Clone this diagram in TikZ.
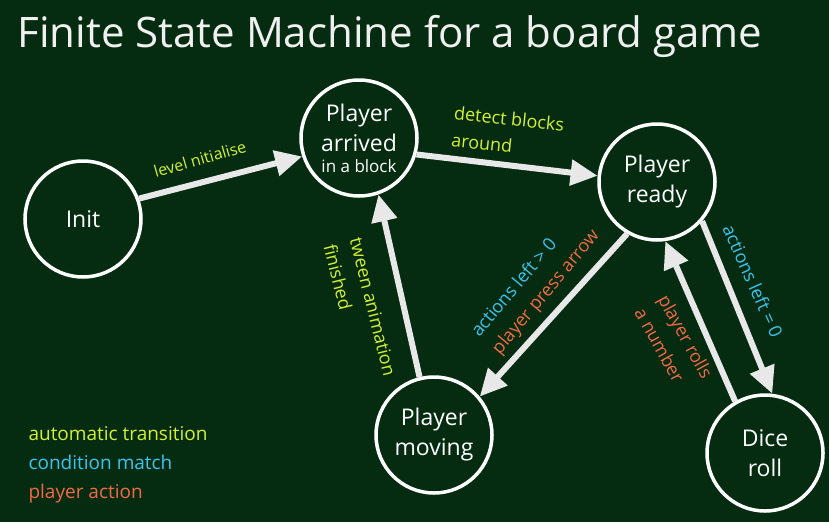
\documentclass[tikz,border=0pt]{standalone}
\usepackage{fontspec}
\setmainfont{Open Sans}
\usetikzlibrary{arrows.meta}
\definecolor{board}{RGB}{5,44,17}
\definecolor{chalk}{RGB}{232,232,232}
\definecolor{autocol}{RGB}{212,240,50}
\definecolor{condcol}{RGB}{60,196,240}
\definecolor{actcol}{RGB}{242,106,69}
\begin{document}
\begin{tikzpicture}[x=1pt, y=-1pt,
    state/.style={draw=white, line width=3.5pt, circle, fill=board, text=white, minimum size=116pt, inner sep=0pt, align=center, font=\fontsize{23}{30}\selectfont},
    trans/.style={font=\fontsize{18}{27}\selectfont, align=left},
    legend/.style={anchor=base west, font=\fontsize{19}{21}\selectfont},
    edge/.style={draw=chalk, line width=6pt},
    >={Triangle[length=27pt,width=25pt]}
]
\path[use as bounding box, fill=board] (0,0) rectangle (829,522);

\node[anchor=base west, text=white!94!black, font=\fontsize{42}{46}\selectfont] (title) at (14,47) {Finite State Machine for a board game};

\node[state] (init) at (83,219) {Init};
\node[state] (arrived) at (359,138) {Player\\arrived\\[-9pt]{\fontsize{17}{19}\selectfont in a block}};
\node[state] (ready) at (657,182) {Player\\ready};
\node[state] (moving) at (434,435) {Player\\moving};
\node[state] (dice) at (765,453) {Dice\\roll};

\draw[->, edge] (init.20) -- (arrived.198);
\draw[->, edge] (arrived.-16.5) -- (ready.174);
\draw[->, edge] (ready.240) -- (moving.40);
\draw[->, edge] (moving.104) -- (arrived.-71);
\draw[->, edge] (ready.-41) -- (dice.83);
\draw[->, edge] (dice.120) -- (ready.-82);

\node[trans, text=autocol, rotate=16, font=\fontsize{16}{20}\selectfont] (lvl) at (200,159) {level nitialise};
\node[trans, text=autocol, rotate=-6, anchor=north west] (detect) at (452,102) {detect blocks\\around};
\node[trans, text=autocol, rotate=-76] (tween) at (360,310) {tween animation\\finished};
\node[trans, rotate=50] (press) at (536,284) {\textcolor{condcol}{actions left > 0}\\\textcolor{actcol}{player press arrow}};
\node[trans, text=condcol, rotate=-66] (zero) at (753,281) {actions left = 0};
\node[trans, text=actcol, rotate=-61] (rolls) at (674,343) {player rolls\\a number};

\node[legend, text=autocol] (lauto) at (25,440) {automatic transition};
\node[legend, text=condcol] (lcond) at (25,469) {condition match};
\node[legend, text=actcol] (lact) at (25,498) {player action};
\end{tikzpicture}
\end{document}
